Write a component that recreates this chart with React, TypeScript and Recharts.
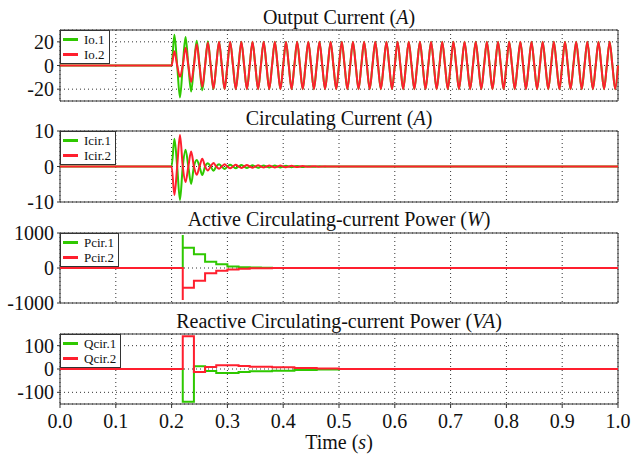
import React from "react";
import {
  LineChart,
  Line,
  XAxis,
  YAxis,
  CartesianGrid,
  ReferenceArea,
  Legend,
} from "recharts";

const FONT = "'Liberation Serif', 'DejaVu Serif', 'Times New Roman', serif";
const GREEN = "#2fc800";
const RED = "#ff1f2e";
const INK = "#333";
const PAD = 12;

const TIME_TICKS = [0, 0.1, 0.2, 0.3, 0.4, 0.5, 0.6, 0.7, 0.8, 0.9, 1.0];

// Output current: extrema of each half cycle after the 0.2 s start
const IO1_PEAKS = [
  26, -27, 24, -22, 21, -21, 20.5, -20, 20, -20,
  20, -20, 20, -20, 20, -20, 20, -20, 20, -20,
  20, -20, 20, -20, 20, -20, 20, -20, 20, -20,
  20, -20, 20, -20, 20, -20, 20, -20, 20, -20,
  20, -20, 20, -20, 20, -20, 20, -20, 20, -20,
  20, -20, 20, -20, 20, -20, 20, -20, 20, -20,
  20, -20, 20, -20, 20, -20, 20, -20, 20, -20,
  20, -20, 20, -20, 20, -20, 20, -20, 20, -20,
];
const IO2_PEAKS = [
  12, -9.5, 15, -14, 18, -18, 19.5, -19.5, 20, -20,
  20, -20, 20, -20, 20, -20, 20, -20, 20, -20,
  20, -20, 20, -20, 20, -20, 20, -20, 20, -20,
  20, -20, 20, -20, 20, -20, 20, -20, 20, -20,
  20, -20, 20, -20, 20, -20, 20, -20, 20, -20,
  20, -20, 20, -20, 20, -20, 20, -20, 20, -20,
  20, -20, 20, -20, 20, -20, 20, -20, 20, -20,
  20, -20, 20, -20, 20, -20, 20, -20, 20, -20,
];

// Circulating current: damped extrema after 0.2 s
const ICIR1_PEAKS = [
  7.8, -9.4, 4.7, -4.9, 1.8, -2.4, 0.9, -1.2, 0.6, -0.7,
  0.5, -0.5, 0.4, -0.4, 0.35, -0.35, 0.3, -0.3, 0.25, -0.25,
  0.2, -0.2, 0.15, -0.15, 0.1, -0.1, 0.05, -0.05, 0, 0,
];
const ICIR2_PEAKS = [
  -8, 8.9, -4.4, 4.2, -2.3, 2.2, -1.1, 1.0, -0.6, 0.6,
  -0.5, 0.5, -0.4, 0.4, -0.35, 0.35, -0.3, 0.3, -0.25, 0.25,
  -0.2, 0.2, -0.15, 0.15, -0.1, 0.1, -0.05, 0.05, 0, 0,
];

// Active circulating-current power (steps)
const P_TIMES = [0.22, 0.24, 0.26, 0.28, 0.3, 0.32, 0.34, 0.36, 0.38, 0.4];
const P_SPIKE = [940, -914];
const PCIR1 = [580, 390, 180, 105, 45, 25, 12, 6, 3, 0];
const PCIR2 = [-563, -363, -150, -77, -40, -20, -10, -5, -2, 0];

// Reactive circulating-current power (steps)
const Q_TIMES = [0.22, 0.24, 0.26, 0.28, 0.32, 0.34, 0.38, 0.42, 0.46, 0.5];
const QCIR1 = [-140, 12, -9, -17, -13, -10, -7, -4, -2, 0];
const QCIR2 = [140, -13, 9, 16, 13, 10, 7, 4, 2, 0];

function waveRows(a: number[], b: number[]) {
  const rows = [{ t: 0, a: 0, b: 0 }];
  a.forEach((_, k) => {
    rows.push({ t: 0.2 + 0.01 * k, a: 0, b: 0 });
    rows.push({ t: 0.205 + 0.01 * k, a: a[k], b: b[k] });
  });
  rows.push({ t: 0.2 + 0.01 * a.length, a: 0, b: 0 });
  rows.push({ t: 1, a: 0, b: 0 });
  return rows;
}

function stepRows(times: number[], a: number[], b: number[], spike?: number[]) {
  const rows = [
    { t: 0, a: 0, b: 0 },
    { t: times[0], a: 0, b: 0 },
  ];
  if (spike) rows.push({ t: times[0], a: spike[0], b: spike[1] });
  times.forEach((t, i) => rows.push({ t, a: a[i], b: b[i] }));
  rows.push({ t: 1, a: 0, b: 0 });
  return rows;
}

const ioData = waveRows(IO1_PEAKS, IO2_PEAKS);
const icirData = waveRows(ICIR1_PEAKS, ICIR2_PEAKS);
const pData = stepRows(P_TIMES, PCIR1, PCIR2, P_SPIKE);
const qData = stepRows(Q_TIMES, QCIR1, QCIR2);

const LegendBox = ({ payload }: any) => (
  <div
    style={{
      border: `1px solid ${INK}`,
      background: "#fff",
      padding: "1px 4px 1px 2px",
      fontFamily: FONT,
      fontSize: 13,
      lineHeight: "15px",
      color: "#111",
    }}
  >
    {(payload || []).map((e: any) => (
      <div key={e.value} style={{ display: "flex", alignItems: "center" }}>
        <span
          style={{
            display: "inline-block",
            width: 15,
            height: 3,
            background: e.color,
            marginRight: 6,
          }}
        />
        {e.value}
      </div>
    ))}
  </div>
);

interface PanelProps {
  top: number;
  plotHeight: number;
  data: any[];
  names: [string, string];
  domain: [number, number];
  yTicks: number[];
  curve: "monotone" | "stepAfter";
  showX?: boolean;
}

function Panel({ top, plotHeight, data, names, domain, yTicks, curve, showX }: PanelProps) {
  const xHeight = showX ? 40 : 0;
  const tickStyle = { fontFamily: FONT, fontSize: 20, fill: "#111" };
  return (
    <div style={{ position: "absolute", left: 0, top: top - PAD }}>
      <LineChart
        width={633}
        height={PAD + plotHeight + (showX ? xHeight : PAD)}
        data={data}
        margin={{ top: PAD, right: 15, bottom: showX ? 0 : PAD, left: 0 }}
      >
        <CartesianGrid stroke={INK} strokeDasharray="1 3" />
        <XAxis
          type="number"
          dataKey="t"
          domain={[0, 1]}
          ticks={TIME_TICKS}
          interval={0}
          hide={!showX}
          height={xHeight}
          axisLine={false}
          tickLine={{ stroke: INK }}
          tickSize={4}
          tickMargin={6}
          tick={tickStyle}
          tickFormatter={(v: number) => v.toFixed(1)}
        />
        <YAxis
          type="number"
          domain={domain}
          ticks={yTicks}
          interval={0}
          width={60}
          axisLine={false}
          tickLine={{ stroke: INK }}
          tickSize={3}
          tickMargin={3}
          tick={tickStyle}
        />
        <ReferenceArea
          x1={0}
          x2={1}
          y1={domain[0]}
          y2={domain[1]}
          fill="none"
          stroke={INK}
          strokeWidth={1}
          ifOverflow="visible"
        />
        <Line
          type={curve}
          dataKey="a"
          name={names[0]}
          stroke={GREEN}
          strokeWidth={2}
          dot={false}
          isAnimationActive={false}
        />
        <Line
          type={curve}
          dataKey="b"
          name={names[1]}
          stroke={RED}
          strokeWidth={2}
          dot={false}
          isAnimationActive={false}
        />
        <Legend
          layout="vertical"
          align="center"
          verticalAlign="middle"
          wrapperStyle={{ top: PAD, left: 60, width: "auto" }}
          content={<LegendBox />}
        />
      </LineChart>
    </div>
  );
}

const titleStyle = (top: number): React.CSSProperties => ({
  position: "absolute",
  top,
  left: 60,
  width: 558,
  textAlign: "center",
  fontFamily: FONT,
  fontSize: 20,
  lineHeight: "20px",
  color: "#111",
  whiteSpace: "nowrap",
});

export default function App() {
  return (
    <div
      style={{
        position: "absolute",
        left: 0,
        top: 0,
        width: 633,
        height: 457,
        background: "#fff",
      }}
    >
      <div style={titleStyle(7)}>
        Output Current (<i>A</i>)
      </div>
      <div style={titleStyle(108)}>
        Circulating Current (<i>A</i>)
      </div>
      <div style={titleStyle(209)}>
        Active Circulating-current Power (<i>W</i>)
      </div>
      <div style={titleStyle(311)}>
        Reactive Circulating-current Power (<i>VA</i>)
      </div>

      <Panel
        top={30}
        plotHeight={71}
        data={ioData}
        names={["Io.1", "Io.2"]}
        domain={[-30, 30]}
        yTicks={[20, 0, -20]}
        curve="monotone"
      />
      <Panel
        top={131}
        plotHeight={71}
        data={icirData}
        names={["Icir.1", "Icir.2"]}
        domain={[-10, 10]}
        yTicks={[10, 0, -10]}
        curve="monotone"
      />
      <Panel
        top={233}
        plotHeight={70}
        data={pData}
        names={["Pcir.1", "Pcir.2"]}
        domain={[-1000, 1000]}
        yTicks={[1000, 0, -1000]}
        curve="stepAfter"
      />
      <Panel
        top={334}
        plotHeight={70}
        data={qData}
        names={["Qcir.1", "Qcir.2"]}
        domain={[-150, 150]}
        yTicks={[100, 0, -100]}
        curve="stepAfter"
        showX
      />

      <div
        style={{
          position: "absolute",
          top: 432,
          left: 60,
          width: 558,
          textAlign: "center",
          fontFamily: FONT,
          fontSize: 20,
          lineHeight: "20px",
          color: "#111",
        }}
      >
        Time (<i>s</i>)
      </div>
    </div>
  );
}
